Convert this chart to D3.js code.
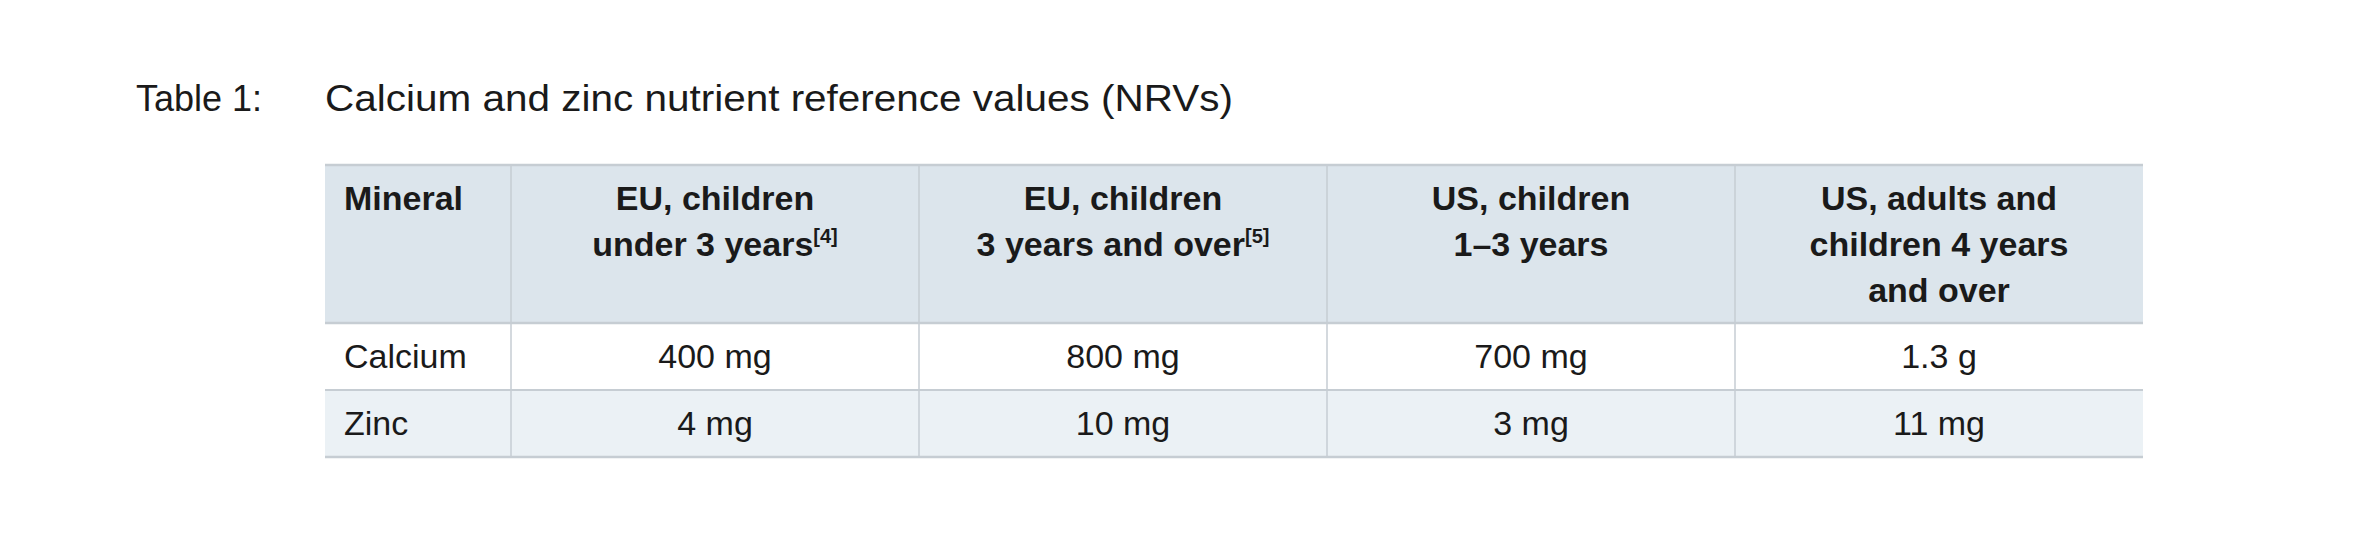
<!DOCTYPE html>
<html><head><meta charset="utf-8">
<script src="https://cdn.jsdelivr.net/npm/d3@7"></script>
<style>body{margin:0;background:#fff}svg{display:block}</style>
</head><body>
<svg id="c" width="2368" height="539"></svg>
<script>
const titleLabel = "Table 1:";
const titleText = "Calcium and zinc nutrient reference values (NRVs)";
const headers = [
  [["Mineral",""]],
  [["EU, children",""],["under 3 years","[4]"]],
  [["EU, children",""],["3 years and over","[5]"]],
  [["US, children",""],["1–3 years",""]],
  [["US, adults and",""],["children 4 years",""],["and over",""]]
];
const minerals = ["Calcium","Zinc"];
const calcium = ["400 mg","800 mg","700 mg","1.3 g"];
const zinc = ["4 mg","10 mg","3 mg","11 mg"];
const rows = [calcium, zinc];

const svg = d3.select("#c");
const F = "'Liberation Sans', Arial, Helvetica, sans-serif";
const x = d3.scaleLinear().domain([0,1,5]).range([325,511,2143]);
const y = d3.scaleLinear().domain([0,1,3]).range([165,323,457]);
const border = "#c6cdd3";

svg.append("text").attr("x",136).attr("y",111).attr("font-family",F).attr("font-size",36).attr("fill","#1a1a1a").text(titleLabel);
svg.append("text").attr("x",325).attr("y",111).attr("font-family",F).attr("font-size",36).attr("fill","#1a1a1a").attr("textLength",908).attr("lengthAdjust","spacingAndGlyphs").text(titleText);

// backgrounds
svg.append("rect").attr("x",x(0)).attr("y",y(0)).attr("width",x(5)-x(0)).attr("height",y(1)-y(0)).attr("fill","#dce5ec");
svg.append("rect").attr("x",x(0)).attr("y",y(2)).attr("width",x(5)-x(0)).attr("height",y(3)-y(2)).attr("fill","#ebf1f5");
// horizontal lines
[0,1,2,3].forEach(i=>svg.append("line").attr("x1",x(0)).attr("x2",x(5)).attr("y1",y(i)).attr("y2",y(i)).attr("stroke",border).attr("stroke-width",i===1||i===3||i===0?2.5:2));
// vertical lines
[1,2,3,4].forEach(i=>svg.append("line").attr("x1",x(i)).attr("x2",x(i)).attr("y1",y(0)).attr("y2",y(3)).attr("stroke",border).attr("stroke-width",1.5));

// headers
headers.forEach((lines,ci)=>{
  const left = ci===0;
  lines.forEach((ln,li)=>{
    const t = svg.append("text").attr("font-family",F).attr("font-size",34).attr("font-weight","bold").attr("fill","#1a1a1a")
      .attr("x", left ? x(0)+19 : (x(ci)+x(ci+1))/2).attr("y", 210+li*46)
      .attr("text-anchor", left?"start":"middle");
    t.append("tspan").text(ln[0]);
    if(ln[1]) t.append("tspan").attr("font-size",20).attr("dy",-13).text(ln[1]);
  });
});
// body
rows.forEach((r,ri)=>{
  const by = ri===0?368:435;
  svg.append("text").attr("font-family",F).attr("font-size",34).attr("fill","#1a1a1a").attr("x",x(0)+19).attr("y",by).text(minerals[ri]);
  r.forEach((v,ci)=>svg.append("text").attr("font-family",F).attr("font-size",34).attr("fill","#1a1a1a")
    .attr("x",(x(ci+1)+x(ci+2))/2).attr("y",by).attr("text-anchor","middle").text(v));
});
</script></body></html>
